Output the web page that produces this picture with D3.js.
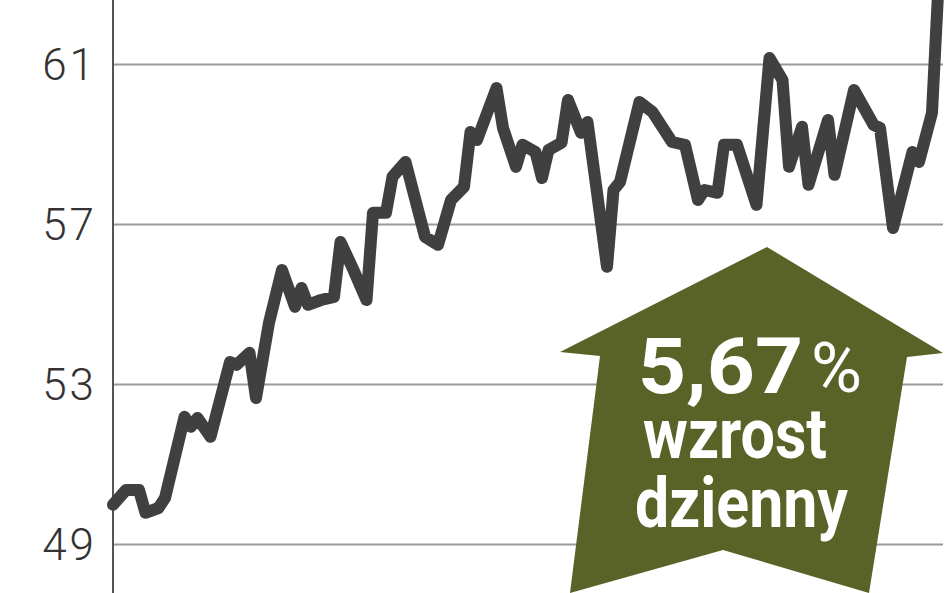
<!DOCTYPE html>
<html>
<head>
<meta charset="utf-8">
<script src="https://cdn.jsdelivr.net/npm/d3@7"></script>
<style>
  html, body { margin: 0; padding: 0; background: #fff; }
  svg { display: block; }
</style>
</head>
<body>
<svg class="chart"></svg>
<script>
// trading session index (x) and price (y)
var sessions = [0, 2, 4, 5, 7, 8, 11, 12, 13, 15, 18, 19, 21, 22, 24, 26, 28, 29, 30, 32,
    34, 35, 37, 39, 40, 42, 43, 45, 48, 50, 52, 54, 55, 56, 59, 60, 62, 63, 65, 66,
    67, 69, 70, 72, 73, 76, 77, 78, 81, 83, 86, 88, 90, 91, 93, 94, 96, 99, 101, 103,
    104, 106, 107, 110, 111, 114, 117, 118, 120, 123, 124, 126, 127];
var prices = [49.98, 50.35, 50.35, 49.78, 49.9, 50.15, 52.18, 51.93, 52.15, 51.68, 53.55, 53.48, 53.78, 52.65, 54.53, 55.85, 54.93, 55.4, 54.98, 55.1,
    55.18, 56.55, 55.85, 55.1, 57.28, 57.28, 58.18, 58.55, 56.68, 56.48, 57.6, 57.93, 59.3, 59.1, 60.4, 59.4, 58.43, 58.98, 58.8, 58.15,
    58.85, 59.03, 60.1, 59.28, 59.55, 55.93, 57.85, 58.05, 60.05, 59.8, 59.05, 58.98, 57.6, 57.85, 57.78, 58.98, 58.98, 57.48, 61.15, 60.6,
    58.43, 59.43, 57.98, 59.6, 58.23, 60.35, 59.48, 59.4, 56.9, 58.8, 58.55, 59.78, 63.0];
var yTicks = [49, 53, 57, 61];
var changeValue = '5,67';
var changeUnit = '%';
var changeLines = ['wzrost', 'dzienny'];

var W = 948, H = 593;
var chart = d3.select('.chart').attr('width', W).attr('height', H);

var x = d3.scaleLinear().domain([0, 127]).range([113, 938.5]);
var y = d3.scaleLinear().domain([49, 61]).range([544, 64]);

// gridlines + tick labels
var yAxis = d3.axisLeft(y).tickValues(yTicks).tickSize(-830).tickPadding(16).tickFormat(d3.format('d'));
var ag = chart.append('g').attr('transform', 'translate(113,0)').call(yAxis);
ag.select('.domain').remove();
ag.selectAll('.tick line').attr('stroke', '#9a9a9a').attr('stroke-width', 2);
ag.selectAll('.tick text')
    .attr('fill', '#333')
    .attr('font-family', 'Roboto, "Open Sans", sans-serif')
    .attr('font-weight', 300)
    .attr('font-size', 44)
    .attr('letter-spacing', 3)
    .attr('dy', '0.36em');

// vertical axis line
chart.append('line')
    .attr('x1', 113).attr('x2', 113).attr('y1', 0).attr('y2', H)
    .attr('stroke', '#555').attr('stroke-width', 2);

// price line
var points = sessions.map(function (s, i) { return [s, prices[i]]; });
var line = d3.line().x(function (d) { return x(d[0]); }).y(function (d) { return y(d[1]); });
chart.append('path')
    .datum(points)
    .attr('d', line)
    .attr('fill', 'none')
    .attr('stroke', '#404040')
    .attr('stroke-width', 12)
    .attr('stroke-linejoin', 'round')
    .attr('stroke-linecap', 'round');

// up arrow badge
var arrow = [[767, 247], [943, 353], [907, 357], [869, 593], [723, 550], [570, 593], [600, 356], [560, 352]];
chart.append('polygon')
    .attr('points', arrow.map(function (p) { return p.join(','); }).join(' '))
    .attr('fill', '#5a6327');

var tg = chart.append('g')
    .attr('fill', '#fff')
    .attr('font-family', 'Roboto, "Liberation Sans", sans-serif');
tg.append('text')
    .attr('x', 638).attr('y', 393)
    .attr('font-size', 78).attr('font-weight', 700)
    .attr('textLength', 165).attr('lengthAdjust', 'spacingAndGlyphs')
    .text(changeValue);
tg.append('text')
    .attr('x', 811).attr('y', 392)
    .attr('font-size', 70).attr('font-weight', 400)
    .attr('textLength', 51).attr('lengthAdjust', 'spacingAndGlyphs')
    .text(changeUnit);
tg.append('text')
    .attr('x', 643).attr('y', 458)
    .attr('font-size', 70).attr('font-weight', 700)
    .attr('textLength', 184).attr('lengthAdjust', 'spacingAndGlyphs')
    .text(changeLines[0]);
tg.append('text')
    .attr('x', 635).attr('y', 527)
    .attr('font-size', 70).attr('font-weight', 700)
    .attr('textLength', 213).attr('lengthAdjust', 'spacingAndGlyphs')
    .text(changeLines[1]);
</script>
</body>
</html>
